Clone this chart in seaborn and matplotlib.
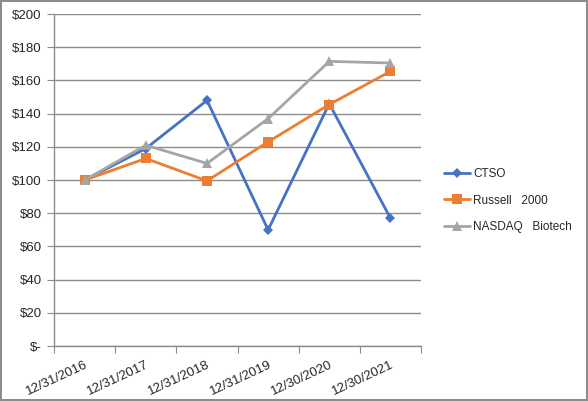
import pandas as pd
import matplotlib.pyplot as plt
import matplotlib.ticker as mticker
import seaborn as sns

# --- Data ---
dates = ['12/31/2016', '12/31/2017', '12/31/2018', '12/31/2019', '12/30/2020', '12/30/2021']
ctso = [100, 119, 148, 70, 146, 77]
russell = [100, 113, 99.5, 123, 145.5, 165.5]
nasdaq = [100, 121, 110, 137, 171.5, 170.5]
series_names = ['CTSO', 'Russell   2000', 'NASDAQ   Biotech']

df = pd.DataFrame({
    'Date': dates * 3,
    'Value': ctso + russell + nasdaq,
    'Series': [s for s in series_names for _ in dates],
})

sns.set_style('white')
plt.rcParams['font.family'] = ['Liberation Sans', 'DejaVu Sans']

fig = plt.figure(figsize=(5.88, 4.01), dpi=100)
fig.patch.set_edgecolor('#8c8c8c')
fig.patch.set_linewidth(1.5)
ax = fig.add_axes([0.092, 0.137, 0.624, 0.828])

palette = {'CTSO': '#4472C4', 'Russell   2000': '#ED7D31', 'NASDAQ   Biotech': '#A5A5A5'}
markers = {'CTSO': 'D', 'Russell   2000': 's', 'NASDAQ   Biotech': '^'}
sizes = {'CTSO': 5, 'Russell   2000': 7, 'NASDAQ   Biotech': 7}

for name in series_names:
    sub = df[df['Series'] == name]
    sns.lineplot(data=sub, x='Date', y='Value', color=palette[name], marker=markers[name],
                 markersize=sizes[name], markeredgewidth=0, linewidth=2, label=name, ax=ax)

# --- Axes styling ---
ax.set_xlim(-0.5, len(dates) - 0.5)
ax.set_ylim(0, 200)
ax.set_xlabel('')
ax.set_ylabel('')
ax.yaxis.set_major_locator(mticker.MultipleLocator(20))
ax.yaxis.set_major_formatter(mticker.FuncFormatter(lambda v, p: '$-' if v == 0 else f'${v:.0f}'))
ax.grid(axis='y', color='#8c8c8c', linewidth=1)
ax.set_axisbelow(True)

ax.set_xticks([i - 0.5 for i in range(len(dates) + 1)])
ax.set_xticklabels([])
ax.set_xticks(range(len(dates)), minor=True)
ax.set_xticklabels(dates, minor=True, rotation=25, ha='right', rotation_mode='anchor', fontsize=9.5)
ax.tick_params(axis='x', which='major', length=5, color='#8c8c8c', direction='out', bottom=True)
ax.tick_params(axis='x', which='minor', length=0, pad=9)
ax.tick_params(axis='y', length=5, color='#8c8c8c', direction='out', left=True, labelsize=9.5, pad=4)

for side in ['top', 'right']:
    ax.spines[side].set_visible(False)
for side in ['left', 'bottom']:
    ax.spines[side].set_color('#8c8c8c')
    ax.spines[side].set_linewidth(1)

ax.legend(loc='center left', bbox_to_anchor=(0.745, 0.5), bbox_transform=fig.transFigure,
          frameon=False, fontsize=8.5, handlelength=2.2, handletextpad=0.3,
          labelspacing=1.2, borderpad=0)

fig.savefig('out.png', dpi=100, edgecolor=fig.get_edgecolor())
